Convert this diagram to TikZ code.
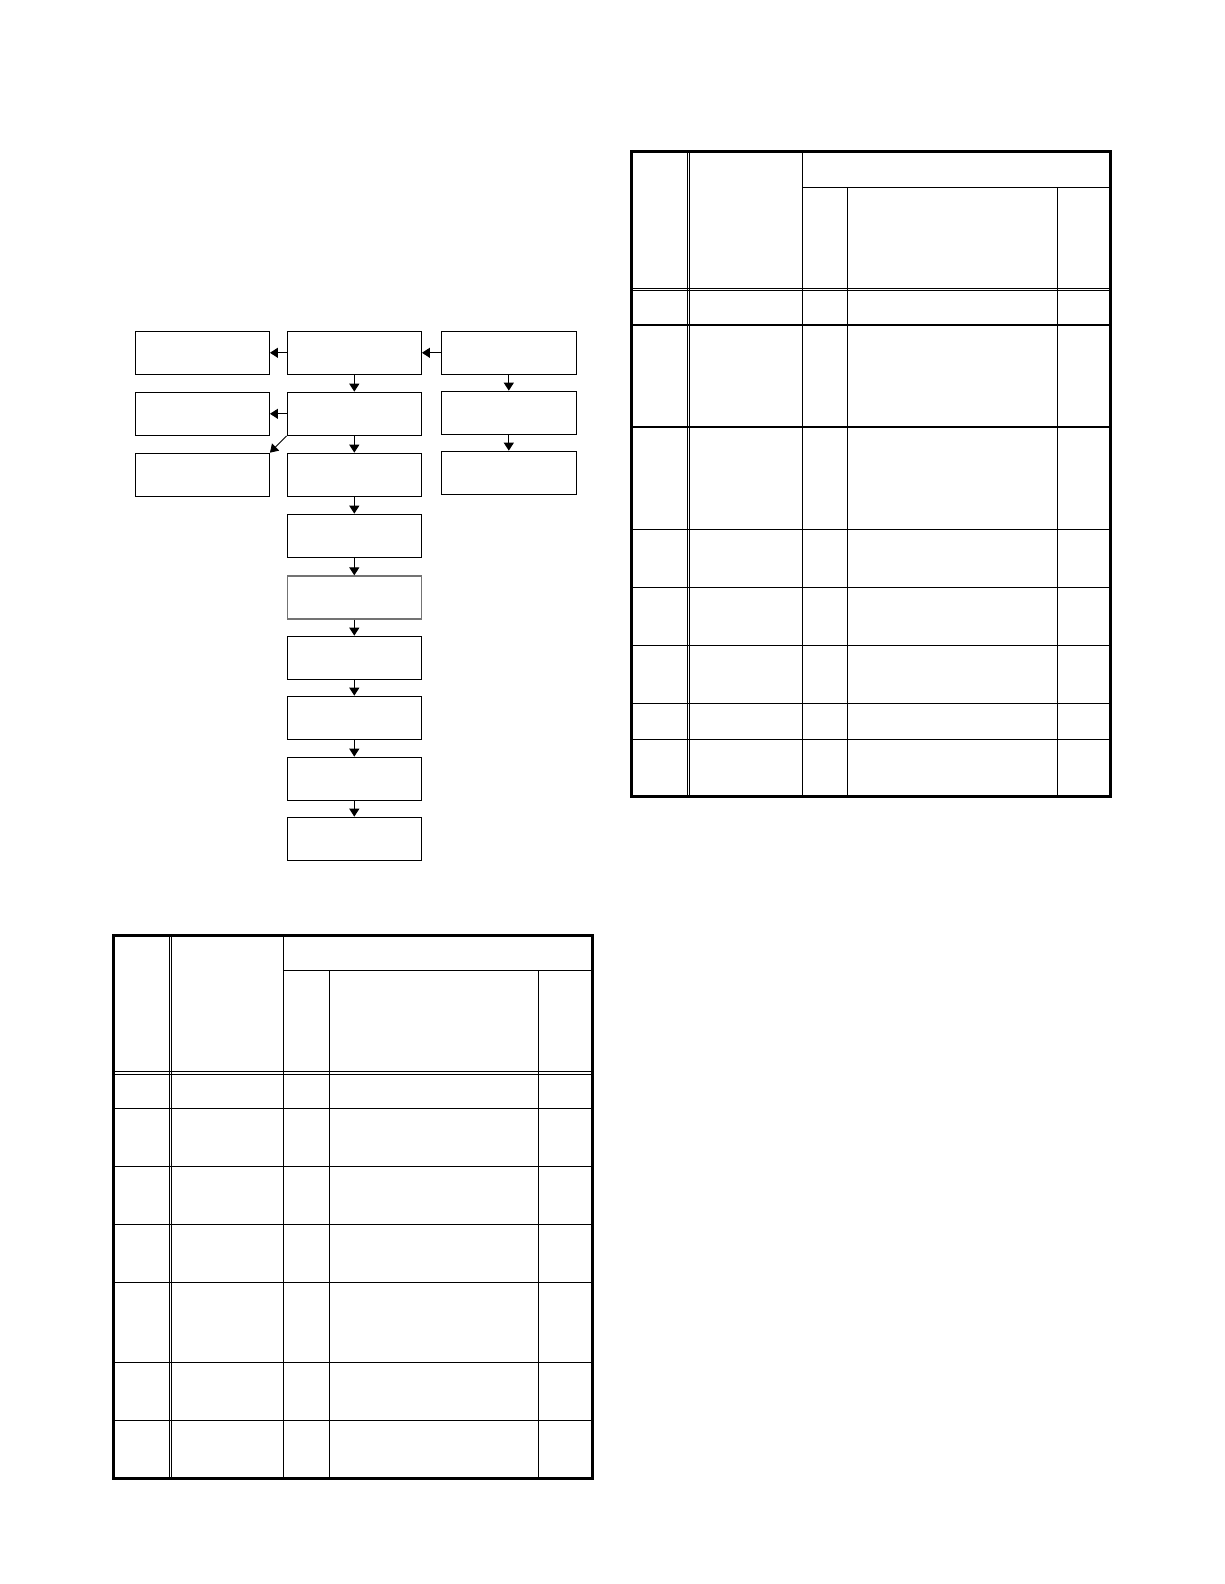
\documentclass[tikz,border=0pt]{standalone}
\usetikzlibrary{arrows.meta}
\begin{document}
\begin{tikzpicture}[x=1pt,y=-1pt,
  fbox/.style={draw=black,line width=1.3pt,rectangle,inner sep=0pt,minimum width=134pt,minimum height=43pt},
  greybox/.style={fbox,draw=black!55},
  arr/.style={line width=1.2pt,-{Triangle[length=8pt,width=10pt]}},
  tline/.style={line width=1.3pt},
  thin2/.style={line width=1pt},
  outer/.style={line width=3pt}]
\useasboundingbox (0,0) rectangle (1224,1584);
\fill[white] (0,0) rectangle (1224,1584);

% flowchart
\node[fbox] (l1) at (202.3,352.8) {};
\node[fbox] (l2) at (202.3,413.8) {};
\node[fbox] (l3) at (202.3,474.8) {};
\node[fbox] (m1) at (354.3,352.8) {};
\node[fbox] (m2) at (354.3,413.8) {};
\node[fbox] (m3) at (354.3,474.8) {};
\node[fbox] (m4) at (354.3,535.8) {};
\node[greybox] (m5) at (354.3,597.5) {};
\node[fbox] (m6) at (354.3,657.8) {};
\node[fbox] (m7) at (354.3,717.8) {};
\node[fbox] (m8) at (354.3,778.8) {};
\node[fbox] (m9) at (354.3,838.8) {};
\node[fbox,minimum width=135pt] (r1) at (508.8,352.8) {};
\node[fbox,minimum width=135pt] (r2) at (508.8,412.8) {};
\node[fbox,minimum width=135pt] (r3) at (508.8,472.8) {};

\draw[arr] (m1.west) -- (l1.east);
\draw[arr] (r1.west) -- (m1.east);
\draw[arr] (m2.west) -- (l2.east);
\draw[arr,line width=0.9pt] (m2.south west) -- (l3.north east);
\draw[arr] (m1.south) -- (m2.north);
\draw[arr] (m2.south) -- (m3.north);
\draw[arr] (m3.south) -- (m4.north);
\draw[arr] (m4.south) -- (m5.north);
\draw[arr] (m5.south) -- (m6.north);
\draw[arr] (m6.south) -- (m7.north);
\draw[arr] (m7.south) -- (m8.north);
\draw[arr] (m8.south) -- (m9.north);
\draw[arr] (r1.south) -- (r2.north);
\draw[arr] (r2.south) -- (r3.north);

% right table
\begin{scope}
\def\L{631}\def\R{1110.7}\def\T{151}\def\B{796.6}
\draw[thin2] (687.3,\T) -- (687.3,\B);
\draw[thin2] (689.6,\T) -- (689.6,\B);
\draw[tline] (802.3,\T) -- (802.3,\B);
\draw[tline] (802.3,187.3) -- (\R,187.3);
\draw[tline] (847.3,187.3) -- (847.3,\B);
\draw[tline] (1057.3,187.3) -- (1057.3,\B);
\draw[thin2] (\L,288) -- (\R,288);
\draw[thin2] (\L,290.4) -- (\R,290.4);
\foreach \y in {325,427,529.2,587.3,645.3,703.3,739.3}
  \draw[tline] (\L,\y) -- (\R,\y);
\draw[outer] (\L,\T) rectangle (\R,\B);
\end{scope}

% bottom table
\begin{scope}
\def\L{113.3}\def\R{592.7}\def\T{935}\def\B{1478.3}
\draw[thin2] (169.3,\T) -- (169.3,\B);
\draw[thin2] (171.6,\T) -- (171.6,\B);
\draw[tline] (283.3,\T) -- (283.3,\B);
\draw[tline] (283.3,970.3) -- (\R,970.3);
\draw[tline] (329.3,970.3) -- (329.3,\B);
\draw[tline] (538.3,970.3) -- (538.3,\B);
\draw[thin2] (\L,1071) -- (\R,1071);
\draw[thin2] (\L,1074.3) -- (\R,1074.3);
\foreach \y in {1108.3,1166.3,1224.3,1282.3,1362.3,1420.3}
  \draw[tline] (\L,\y) -- (\R,\y);
\draw[outer] (\L,\T) rectangle (\R,\B);
\end{scope}
\end{tikzpicture}
\end{document}
